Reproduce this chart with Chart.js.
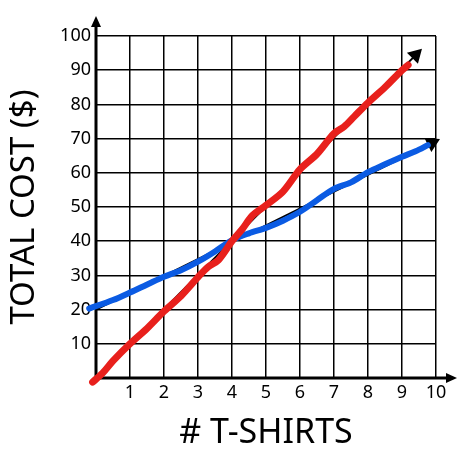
<!DOCTYPE html>
<html>
<head>
<meta charset="utf-8">
<script src="https://cdn.jsdelivr.net/npm/chart.js@4"></script>
<style>
  html, body { margin: 0; padding: 0; background: #fff; }
  #wrap { width: 462px; height: 451px; }
</style>
</head>
<body>
<div id="wrap"><canvas id="myChart"></canvas></div>
<script>
// red: hand drawn line, cost = 10 per shirt
const redX = [-0.1, 0.2, 0.5, 1, 1.5, 2, 2.5, 3, 3.3, 3.6, 4, 4.3, 4.6, 5, 5.5, 6, 6.5, 7, 7.3, 7.6, 8, 8.5, 9, 9.18]
const redY = [-1.2, 1.5, 5, 10, 14.5, 19.5, 24, 29.5, 32.5, 34.5, 40, 43.5, 47.5, 50.5, 54.5, 61, 65.5, 71.5, 73.5, 76.5, 80.5, 85, 90, 91.5]
// blue: hand drawn line, 20 + 5 per shirt
const blueX = [-0.2, 0.5, 1, 1.6, 2, 2.5, 3, 3.5, 4, 4.5, 5, 5.5, 6, 6.5, 7, 7.5, 8, 8.5, 9, 9.4, 9.76]
const blueY = [20.3, 22.8, 25, 27.8, 29.6, 31.5, 34, 37, 40.3, 42.3, 43.9, 46, 48.6, 52, 55.3, 57.2, 60.2, 62.5, 64.7, 66.3, 68.1]
// black arrows underneath
const redArrowX = [0, 9.4]
const redArrowY = [0, 94.4]
const blueArrowX = [0, 9.88]
const blueArrowY = [20, 68.7]

const yTicks = [10, 20, 30, 40, 50, 60, 70, 80, 90, 100]
const xTicks = [1, 2, 3, 4, 5, 6, 7, 8, 9, 10]

const toPoints = (xs, ys) => xs.map((x, i) => ({ x: x, y: ys[i] }))

const axisArrows = {
    id: 'axisArrows',
    beforeDatasetsDraw(chart) {
        const ctx = chart.ctx
        const a = chart.chartArea
        ctx.save()
        ctx.strokeStyle = '#000'
        ctx.fillStyle = '#000'
        ctx.lineWidth = 3
        ctx.beginPath()
        ctx.moveTo(a.left, a.bottom + 1)
        ctx.lineTo(a.left, a.top - 14)
        ctx.moveTo(a.left - 1, a.bottom)
        ctx.lineTo(a.right + 14, a.bottom)
        ctx.stroke()
        // arrow heads
        ctx.beginPath()
        ctx.moveTo(a.left, a.top - 20)
        ctx.lineTo(a.left - 5, a.top - 9)
        ctx.lineTo(a.left + 5, a.top - 9)
        ctx.closePath()
        ctx.fill()
        ctx.beginPath()
        ctx.moveTo(a.right + 21, a.bottom)
        ctx.lineTo(a.right + 10, a.bottom - 5)
        ctx.lineTo(a.right + 10, a.bottom + 5)
        ctx.closePath()
        ctx.fill()
        ctx.restore()
    }
}

const font = 'Noto Sans'

new Chart(document.getElementById('myChart'), {
    type: 'line',
    data: {
        datasets: [
            {
                data: toPoints(redX, redY),
                borderColor: '#e8201c',
                borderWidth: 7,
                pointRadius: 0,
                tension: 0.3,
                borderCapStyle: 'round',
                borderJoinStyle: 'round',
                clip: false
            },
            {
                data: toPoints(blueX, blueY),
                borderColor: '#0b5be3',
                borderWidth: 6,
                pointRadius: 0,
                tension: 0.3,
                borderCapStyle: 'round',
                borderJoinStyle: 'round',
                clip: false
            },
            {
                data: toPoints(redArrowX, redArrowY),
                borderColor: '#000',
                backgroundColor: '#000',
                borderWidth: 2,
                pointRadius: [0, 7],
                pointStyle: 'triangle',
                rotation: 45,
                clip: false
            },
            {
                data: toPoints(blueArrowX, blueArrowY),
                borderColor: '#000',
                backgroundColor: '#000',
                borderWidth: 2,
                pointRadius: [0, 7],
                pointStyle: 'triangle',
                rotation: 63.6,
                clip: false
            }
        ]
    },
    options: {
        responsive: true,
        maintainAspectRatio: false,
        animation: false,
        layout: { padding: { top: 36, right: 26, left: 0, bottom: 0 } },
        plugins: { legend: { display: false }, tooltip: { enabled: false } },
        scales: {
            x: {
                type: 'linear',
                min: 0,
                max: 10,
                afterFit: (s) => { s.height = 73 },
                afterBuildTicks: (s) => { s.ticks = [0].concat(xTicks).map(v => ({ value: v })) },
                grid: { color: '#000', lineWidth: 1.5, drawTicks: false },
                border: { display: false },
                ticks: {
                    color: '#000',
                    padding: 4,
                    maxRotation: 0,
                    font: { family: font, size: 18 },
                    callback: (v) => v === 0 ? '' : v
                },
                title: {
                    display: true,
                    text: '# T-SHIRTS',
                    color: '#000',
                    font: { family: font, size: 34, lineHeight: 1 },
                    padding: { top: 0, bottom: 1 }
                }
            },
            y: {
                min: 0,
                max: 100,
                afterFit: (s) => { s.width = 96 },
                afterBuildTicks: (s) => { s.ticks = [0].concat(yTicks).map(v => ({ value: v })) },
                grid: { color: '#000', lineWidth: 1.5, drawTicks: false },
                border: { display: false },
                ticks: {
                    color: '#000',
                    padding: 5,
                    font: { family: font, size: 18 },
                    callback: (v) => v === 0 ? '' : v
                },
                title: {
                    display: true,
                    text: 'TOTAL COST ($)',
                    color: '#000',
                    font: { family: font, size: 33, lineHeight: 1 },
                    padding: { top: 8, bottom: 0 }
                }
            }
        }
    },
    plugins: [axisArrows]
})
</script>
</body>
</html>
